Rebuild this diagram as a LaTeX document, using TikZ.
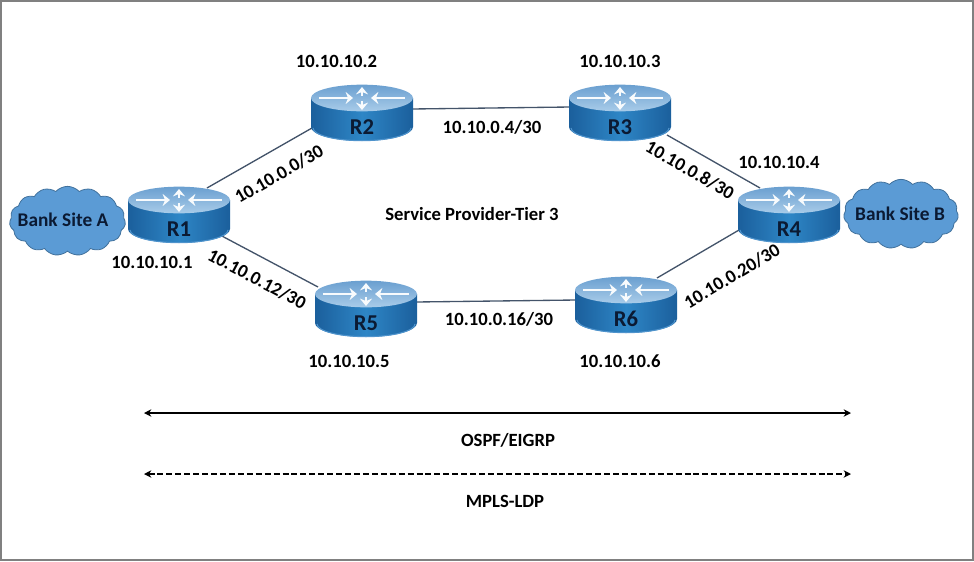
\documentclass[tikz,border=0pt]{standalone}
\usepackage{fontspec}
\setmainfont{Carlito}
\usetikzlibrary{shapes.symbols,shapes.geometric,arrows.meta,backgrounds}
\definecolor{topdark}{HTML}{6A9FD0}
\definecolor{toplight}{HTML}{A9CCE9}
\definecolor{sidedark}{HTML}{1B5F9C}
\definecolor{sidelight}{HTML}{2E86C6}
\definecolor{rimblue}{HTML}{4E93CC}
\definecolor{cloudblue}{HTML}{5B9BD5}
\definecolor{cloudline}{HTML}{41719C}
\definecolor{linkline}{HTML}{44546A}
\definecolor{labelink}{HTML}{0B1A33}
\tikzset{
  x=0.75pt,y=-0.75pt,
  txt/.style={font=\bfseries\fontsize{14}{16}\selectfont,text=black,inner sep=0pt},
  rlabel/.style={font=\bfseries\fontsize{17}{19}\selectfont,text=labelink,inner sep=0pt},
  routerbox/.style={ellipse,minimum width=76.5pt,minimum height=41pt,inner sep=0pt},
  link/.style={draw=linkline,line width=1pt},
  span/.style={line width=1.3pt,black,{Stealth[length=5.5pt,width=5.5pt]}-{Stealth[length=5.5pt,width=5.5pt]}},
  bankcloud/.style={cloud,cloud puffs=15,cloud puff arc=95,aspect=1.6,draw=cloudline,line width=0.6pt,fill=cloudblue,inner sep=0pt},
  cloudtext/.style={font=\bfseries\fontsize{14.5}{17}\selectfont,text=labelink,inner sep=0pt},
  whitearrow/.style={draw=white!92!toplight,line width=1.9pt,-{Stealth[length=5.5pt,width=9pt]}}
}
% name, x, y of the centre of the top face
\newcommand{\routerdraw}[3]{%
  \begin{scope}[shift={(#2,#3)}]
    \path[left color=sidedark,right color=sidedark,middle color=sidelight,draw=none]
      (-51,0) -- (-51,29) arc[start angle=180,end angle=360,x radius=38.25pt,y radius=10.5pt] -- (51,0) -- cycle;
    \draw[rimblue,line width=0.8pt] (-49,30) arc[start angle=180,end angle=360,x radius=36.75pt,y radius=9.5pt];
    \path[top color=topdark,bottom color=toplight] (0,0) ellipse[x radius=38.25pt,y radius=10pt];
    \draw[whitearrow] (-43,0) -- (-9,0);
    \draw[whitearrow] (43,0) -- (9,0);
    \draw[whitearrow] (0,-2) -- (0,-11);
    \draw[whitearrow] (0,3) -- (0,12);
  \end{scope}%
  \node[routerbox] (#1) at (#2,#3+13) {};
  \node[rlabel] (#1t) at (#2,#3+29) {#1};
}
\begin{document}
\begin{tikzpicture}
\useasboundingbox (0,0) rectangle (974,561);
\draw[draw=black!50,line width=1.2pt] (1,1) rectangle (973,560);
\routerdraw{R1}{179}{200}
\routerdraw{R2}{362}{98}
\routerdraw{R3}{620}{98}
\routerdraw{R4}{789}{200}
\routerdraw{R5}{366}{294}
\routerdraw{R6}{626}{290}
\begin{scope}[on background layer]
\draw[link] ([shift={(28,-25)}]R1.center) -- ([shift={(-50,17)}]R2.center);
\draw[link] ([shift={(50,-2)}]R2.center) -- ([shift={(-50,-4)}]R3.center);
\draw[link] ([shift={(47,24)}]R3.center) -- ([shift={(-29,-25)}]R4.center);
\draw[link] ([shift={(41,22)}]R1.center) -- ([shift={(-48,-20)}]R5.center);
\draw[link] ([shift={(50,-5)}]R5.center) -- ([shift={(-50,-3)}]R6.center);
\draw[link] ([shift={(31,-25)}]R6.center) -- ([shift={(-50,17)}]R4.center);
\end{scope}
\node[bankcloud,minimum width=87pt,minimum height=52pt] (A) at (67.5,221) {};
\node[cloudtext] (At) at (63,220) {Bank Site A};
\node[bankcloud,minimum width=86pt,minimum height=52pt] (B) at (901,214) {};
\node[cloudtext] (Bt) at (900,214) {Bank Site B};
\node[txt] (ip2) at (336.5,61) {10.10.10.2};
\node[txt] (ip3) at (620,61) {10.10.10.3};
\node[txt] (ip4) at (779,162) {10.10.10.4};
\node[txt] (ip1) at (152,262) {10.10.10.1};
\node[txt] (ip5) at (349,361) {10.10.10.5};
\node[txt] (ip6) at (620,361) {10.10.10.6};
\node[txt,rotate=30] (n1) at (279,174) {10.10.0.0/30};
\node[txt] (n2) at (492,127) {10.10.0.4/30};
\node[txt,rotate=-30] (n3) at (690,170) {10.10.0.8/30};
\node[txt,rotate=-28] (n4) at (257,279) {10.10.0.12/30};
\node[txt] (n5) at (499,319) {10.10.0.16/30};
\node[txt,rotate=31] (n6) at (732,276) {10.10.0.20/30};
\node[txt] (sp) at (472,214) {Service Provider-Tier 3};
\node[txt] (os) at (508,440) {OSPF/EIGRP};
\node[txt] (mp) at (505,501) {MPLS-LDP};
\coordinate (a1) at (144,413);
\coordinate (a2) at (851,413);
\coordinate (b1) at (144,474);
\coordinate (b2) at (851,474);
\draw[span] (a1) -- (a2);
\draw[span,dash pattern=on 4.5pt off 2.2pt] (b1) -- (b2);
\end{tikzpicture}
\end{document}
